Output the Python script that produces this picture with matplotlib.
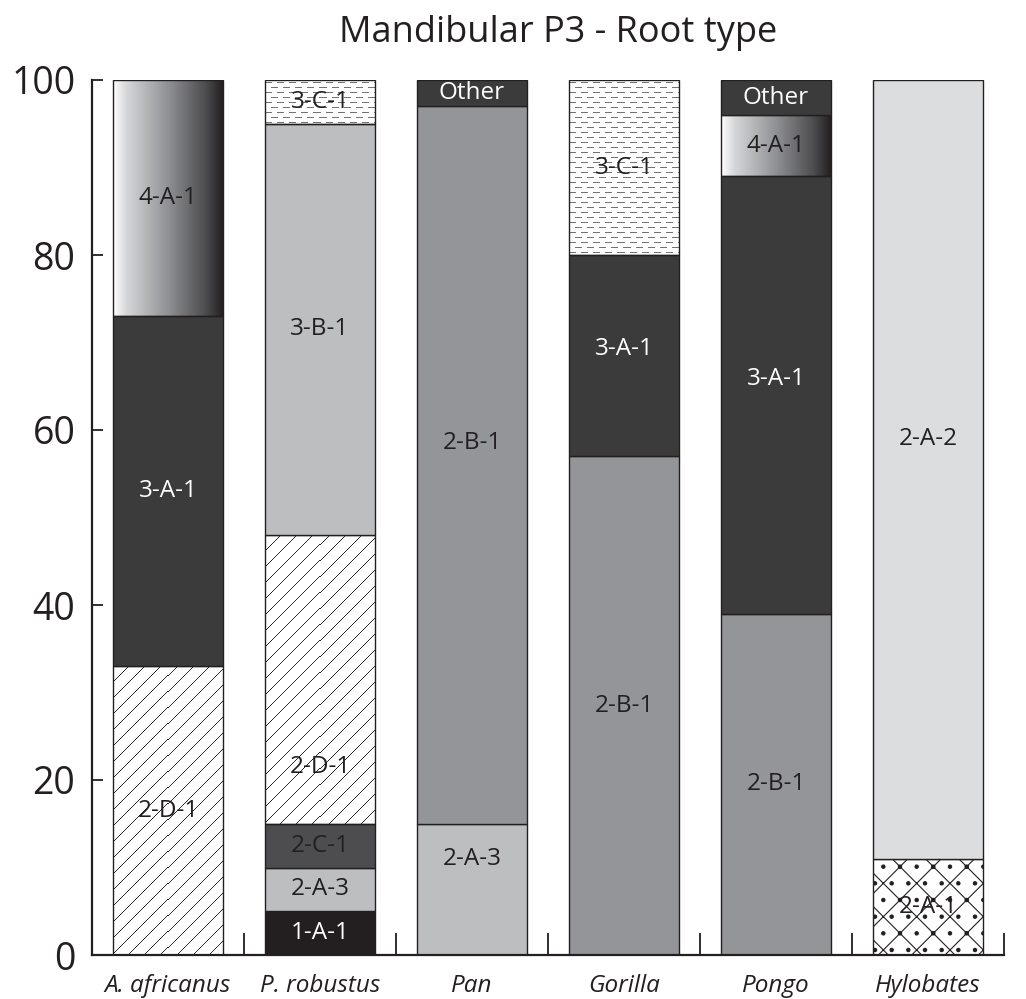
import matplotlib.pyplot as plt
import numpy as np
from matplotlib.colors import LinearSegmentedColormap

plt.rcParams['font.family'] = ['Open Sans', 'DejaVu Sans']
plt.rcParams['hatch.linewidth'] = 0.8

species = ['A. africanus', 'P. robustus', 'Pan', 'Gorilla', 'Pongo', 'Hylobates']

# root types per species, stacked from bottom to top (percent)
africanus_types = ['2-D-1', '3-A-1', '4-A-1']
africanus_pct = [33, 40, 27]
robustus_types = ['1-A-1', '2-A-3', '2-C-1', '2-D-1', '3-B-1', '3-C-1']
robustus_pct = [5, 5, 5, 33, 47, 5]
pan_types = ['2-A-3', '2-B-1', 'Other']
pan_pct = [15, 82, 3]
gorilla_types = ['2-B-1', '3-A-1', '3-C-1']
gorilla_pct = [57, 23, 20]
pongo_types = ['2-B-1', '3-A-1', '4-A-1', 'Other']
pongo_pct = [39, 50, 7, 4]
hylobates_types = ['2-A-1', '2-A-2']
hylobates_pct = [11, 89]

all_types = [africanus_types, robustus_types, pan_types,
             gorilla_types, pongo_types, hylobates_types]
all_pct = [africanus_pct, robustus_pct, pan_pct,
           gorilla_pct, pongo_pct, hylobates_pct]

# fill for each root type: face colour (or texture name), hatch, label colour
style = {
    '1-A-1': ('#231f20', None, 'white'),
    '2-A-1': ('white', '/\\.', '#231f20'),
    '2-A-2': ('#dcddde', None, '#231f20'),
    '2-A-3': ('#bcbec0', None, '#231f20'),
    '2-B-1': ('#939598', None, '#231f20'),
    '2-C-1': ('#4d4d4f', None, '#231f20'),
    '2-D-1': ('diagonal', None, '#231f20'),
    '3-A-1': ('#3b3b3c', None, 'white'),
    '3-B-1': ('#bcbec0', None, '#231f20'),
    '3-C-1': ('dashes', None, '#231f20'),
    '4-A-1': ('gradient', None, '#231f20'),
    'Other': ('#3b3b3c', None, 'white'),
}

# a few labels sit off the middle of their segment
label_y = {(1, '2-D-1'): 21.5, (2, '2-A-3'): 11, (2, '2-B-1'): 58.5,
           (3, '3-A-1'): 69.3, (4, '3-A-1'): 65.8, (5, '2-A-2'): 59}

ink = '#231f20'
bar_w = 0.72

grad_cmap = LinearSegmentedColormap.from_list(
    'grad', [(0, '#ffffff'), (0.12, '#d6d7d9'), (0.5, '#909194'),
             (0.85, '#4b4b4d'), (1, '#231f20')])


def texture(kind, h, w):
    rows = np.arange(h)[:, None]
    cols = np.arange(w)[None, :]
    if kind == 'dashes':
        on_row = rows % 5 == 2
        shift = (rows // 5) % 2 * 6
        mark = on_row & ((cols + shift) % 12 < 7)
        return np.where(mark, 0.45, 1.0)
    # thin '/' lines
    mark = (cols + rows + h) % 16 == 0
    return np.where(mark, 0.15, 1.0)


fig = plt.figure(figsize=(10.26, 9.99), dpi=100)
ax = fig.add_axes([92 / 1026, 44 / 999, 912 / 1026, 875 / 999])

px_y = 875 / 100          # pixels per percent
px_w = bar_w * 912 / 6    # bar width in pixels

for i, (types, pct) in enumerate(zip(all_types, all_pct)):
    bottom = 0
    for t, v in zip(types, pct):
        face, hatch, tcol = style[t]
        x0, x1 = i - bar_w / 2, i + bar_w / 2
        ext = (x0, x1, bottom, bottom + v)
        if face == 'gradient':
            ax.imshow(np.linspace(0, 1, 256).reshape(1, -1), cmap=grad_cmap,
                      extent=ext, aspect='auto', zorder=1)
            face = 'none'
        elif face in ('dashes', 'diagonal'):
            tex = texture(face, int(round(v * px_y)), int(round(px_w)))
            ax.imshow(tex, cmap='gray', vmin=0, vmax=1, origin='upper',
                      extent=ext, aspect='auto', interpolation='nearest',
                      zorder=1)
            face = 'none'
        ax.bar(i, v, bar_w, bottom=bottom, color=face, hatch=hatch,
               edgecolor=ink, linewidth=1.0, zorder=2)
        ty = label_y.get((i, t), bottom + v / 2)
        ax.text(i, ty, t, ha='center', va='center', fontsize=17.5,
                color=tcol, zorder=3)
        bottom += v

ax.set_xlim(-0.5, 5.5)
ax.set_ylim(0, 100)

for s in ['top', 'right']:
    ax.spines[s].set_visible(False)
for s in ['left', 'bottom']:
    ax.spines[s].set_linewidth(1.6)
    ax.spines[s].set_color(ink)

ax.set_yticks([0, 20, 40, 60, 80, 100])
ax.tick_params(axis='y', direction='in', length=8, width=1.3, color=ink,
               labelsize=27, pad=12, labelcolor=ink)

ax.set_xticks(np.arange(6) + 0.5)
ax.set_xticklabels([])
ax.tick_params(axis='x', which='major', direction='in', length=16,
               width=1.3, color=ink)
ax.set_xticks(np.arange(6), minor=True)
ax.set_xticklabels(species, minor=True, fontsize=17.5, style='italic',
                   color=ink)
ax.tick_params(axis='x', which='minor', length=0, pad=14)

fig.text(558 / 1026, 1 - 33 / 999, 'Mandibular P3 - Root type',
         ha='center', va='center', fontsize=26, color=ink)

fig.savefig('out.png', dpi=100)
